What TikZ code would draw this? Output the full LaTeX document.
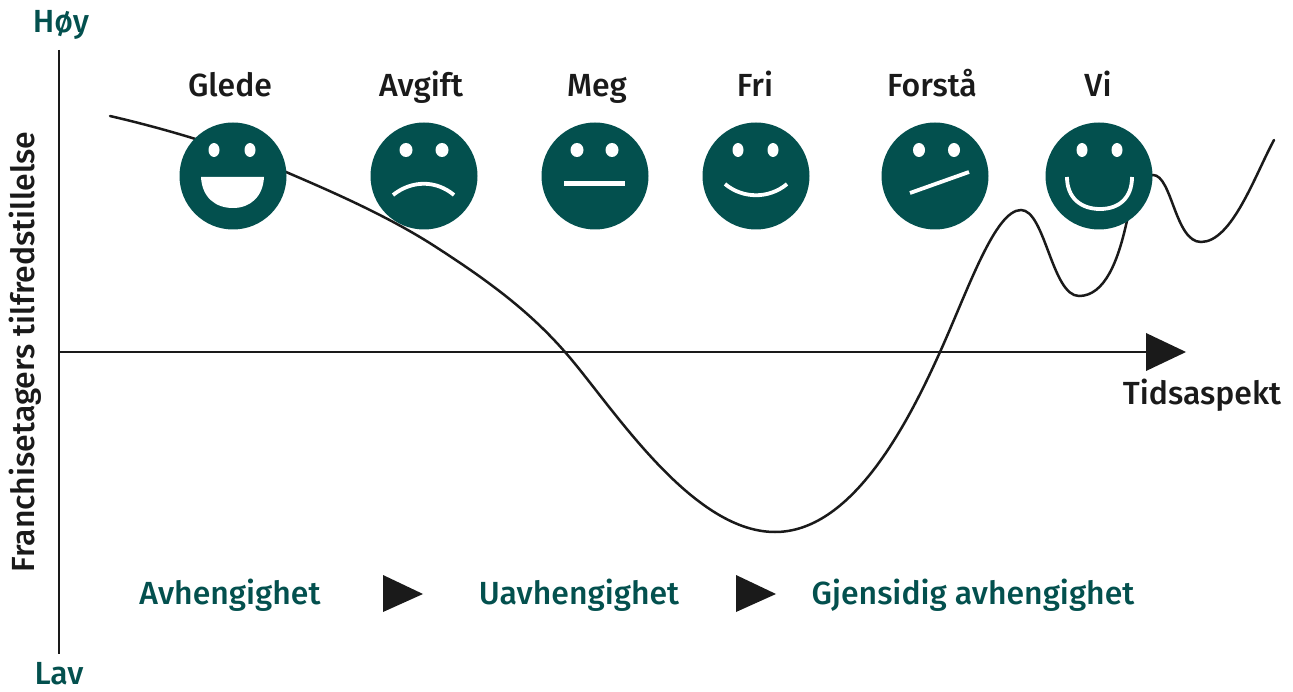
\documentclass[tikz,border=0pt]{standalone}
\usepackage{fontspec}
\setmainfont{Fira Sans}[UprightFont=* Medium]
\usetikzlibrary{shapes.geometric}
\definecolor{facegreen}{HTML}{03504E}
\definecolor{ink}{HTML}{1A1A1A}
\tikzset{
  x=1pt,y=-1pt,
  face/.style={ellipse,fill=facegreen,draw=none,minimum width=107pt,minimum height=107pt,inner sep=0pt},
  eye/.style={fill=white,draw=none},
  titletext/.style={font=\fontsize{32}{36}\selectfont,text=ink,anchor=base,inner sep=0pt},
  phase/.style={font=\fontsize{32}{36}\selectfont,text=facegreen,anchor=base,inner sep=0pt},
  axisline/.style={draw=ink,line width=2.8pt},
  curveline/.style={draw=ink,line width=2.5pt,line cap=round},
  mouth/.style={draw=white,line width=3.8pt},
  tri/.style={fill=ink,draw=none},
}
\begin{document}
\begin{tikzpicture}
\useasboundingbox (0,0) rectangle (1293,692);
% axes
\coordinate (ytop) at (59,50);
\coordinate (ybot) at (59,654);
\coordinate (xstart) at (59,352);
\coordinate (xend) at (1150,352);
\draw[axisline] (ytop) -- (ybot);
\draw[axisline] (xstart) -- (xend);
\fill[tri] (1146,333) -- (1186,352) -- (1146,371) -- cycle;
% curve
\draw[curveline] (110,116)
  .. controls (170,130) and (230,148) .. (286,172)
  .. controls (335,193) and (392,218) .. (439,249)
  .. controls (490,282) and (530,312) .. (565,352)
  .. controls (610,403) and (690,532) .. (775,532)
  .. controls (850,532) and (905,430) .. (940,352)
  .. controls (968,290) and (995,210) .. (1021,210)
  .. controls (1045,210) and (1052,296) .. (1079,296)
  .. controls (1105,296) and (1118,260) .. (1126,225)
  .. controls (1133,195) and (1140,175) .. (1153,175)
  .. controls (1172,175) and (1175,242) .. (1201,242)
  .. controls (1232,242) and (1255,175) .. (1274,140);
% faces
\node[face] (f1) at (233,176) {};
\node[face] (f2) at (424,176) {};
\node[face] (f3) at (595,176) {};
\node[face] (f4) at (756,176) {};
\node[face] (f5) at (935,176) {};
\node[face] (f6) at (1099,176) {};
% eyes
\foreach \x/\rx in {214/5.5,250/5.5,406/6.5,442/6.5,577/6.5,612/6.5,738/5.5,773/5.5,919/6,954/6,1082/5.5,1117/5.5}
  \fill[eye] (\x,150) ellipse [x radius=\rx pt,y radius=7pt];
% mouths
\fill[white] (201,177) -- (264,177) .. controls (263,197) and (250,208) .. (233,208) .. controls (215,208) and (202,197) .. (201,177) -- cycle;
\draw[mouth] (393,195) .. controls (412,180) and (436,180) .. (454,195);
\draw[mouth,line width=4.6pt] (564,183.5) -- (625,183.5);
\draw[mouth] (725,184) .. controls (743,199) and (769,199) .. (787,184);
\draw[mouth] (910,193) -- (969,172);
\draw[mouth] (1067,177) .. controls (1067,198) and (1081,209) .. (1100,209) .. controls (1119,209) and (1132,198) .. (1132,177);
% titles
\node[titletext] (t1) at (230,97) {Glede};
\node[titletext] (t2) at (421,97) {Avgift};
\node[titletext] (t3) at (597,97) {Meg};
\node[titletext] (t4) at (755,97) {Fri};
\node[titletext] (t5) at (932,97) {Forstå};
\node[titletext] (t6) at (1098,97) {Vi};
\node[titletext] (tid) at (1202,404) {Tidsaspekt};
\node[phase] (hoy) at (61,33) {Høy};
\node[phase] (lav) at (59,684) {Lav};
\node[titletext,rotate=90] (ylab) at (34,352) {Franchisetagers tilfredstillelse};
% phases
\node[phase] (p1) at (230,604) {Avhengighet};
\node[phase] (p2) at (579,604) {Uavhengighet};
\node[phase] (p3) at (973,604) {Gjensidig avhengighet};
\fill[tri] (383,575) -- (423,594) -- (383,612) -- cycle;
\fill[tri] (736,575) -- (776,594) -- (736,612) -- cycle;
\end{tikzpicture}
\end{document}
